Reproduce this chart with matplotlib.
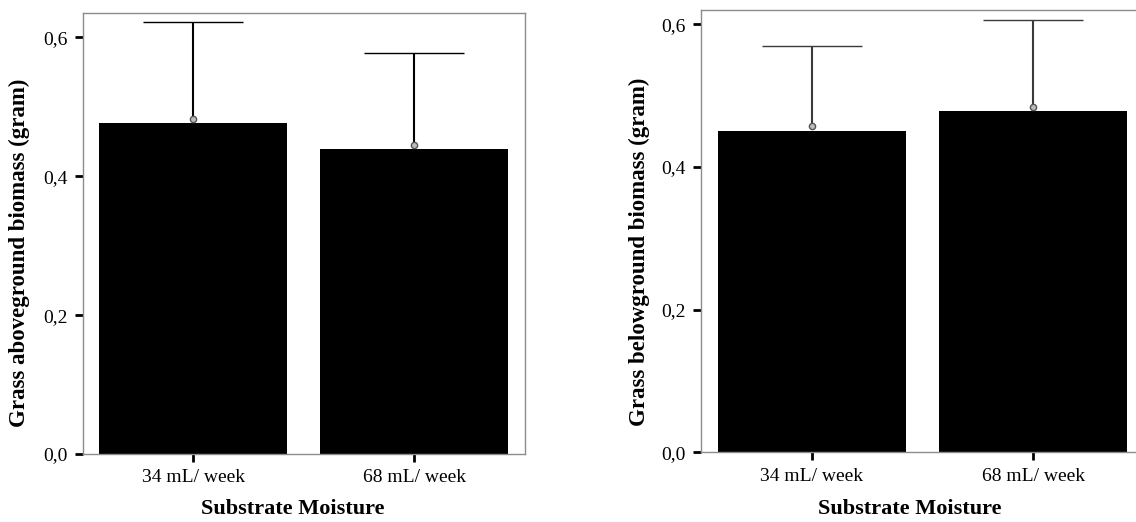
import numpy as np
import matplotlib
matplotlib.use("Agg")
import matplotlib.pyplot as plt

# Datos
categorias = ["34 mL/ week", "68 mL/ week"]
ticks_y = [0.0, 0.2, 0.4, 0.6]
etiquetas_y = ["0,0", "0,2", "0,4", "0,6"]

aereo_barra = [0.476, 0.439]
aereo_media = [0.483, 0.445]
aereo_sup = [0.6225, 0.578]

subt_barra = [0.4505, 0.4785]
subt_media = [0.4575, 0.4845]
subt_sup = [0.570, 0.606]

plt.rcParams["font.family"] = ["Liberation Serif", "DejaVu Serif"]

fig = plt.figure(figsize=(11.36, 5.22), dpi=100)
ax1 = fig.add_axes([0.0728, 0.1303, 0.3893, 0.8454])
ax2 = fig.add_axes([0.6171, 0.1335, 0.3900, 0.8473])


def panel(ax, barras, medias, sup, ymax, ylabel, ylab_xy, xlab_xy, color_err):
    x = np.arange(len(categorias))
    ax.bar(x, barras, width=0.85, color="black", zorder=2)
    medias = np.array(medias)
    arriba = np.array(sup) - medias
    eb = ax.errorbar(x, medias, yerr=[np.zeros_like(medias), arriba],
                     fmt="o", ms=4.5, mfc="#bbbbbb", mec="#555555", mew=1.0,
                     ecolor=color_err, elinewidth=1.5, capsize=36,
                     capthick=1.5, zorder=3)
    eb[1][0].set_visible(False)  # sin tapa inferior
    ax.set_xlim(-0.5, 1.5)
    ax.set_ylim(0, ymax)
    ax.set_xticks(x)
    ax.set_xticklabels(categorias, fontsize=14)
    ax.set_yticks(ticks_y)
    ax.set_yticklabels(etiquetas_y, fontsize=14)
    ax.tick_params(axis="both", length=6, width=2.0, color="black", pad=5)
    for s in ax.spines.values():
        s.set_color("#8c8c8c")
        s.set_linewidth(1.0)
    ax.set_ylabel(ylabel, fontsize=16.5, fontweight="bold", va="center")
    ax.yaxis.set_label_coords(*ylab_xy)
    ax.set_xlabel("Substrate Moisture", fontsize=16, fontweight="bold", va="center")
    ax.xaxis.set_label_coords(*xlab_xy)


panel(ax1, aereo_barra, aereo_media, aereo_sup, 0.6355,
      "Grass aboveground biomass (gram)", (-0.144, 0.455), (0.4755, -0.1246), "black")
panel(ax2, subt_barra, subt_media, subt_sup, 0.620,
      "Grass belowground biomass (gram)", (-0.138, 0.454), (0.472, -0.128), "#3a3a3a")

fig.savefig("out.png", dpi=100)
